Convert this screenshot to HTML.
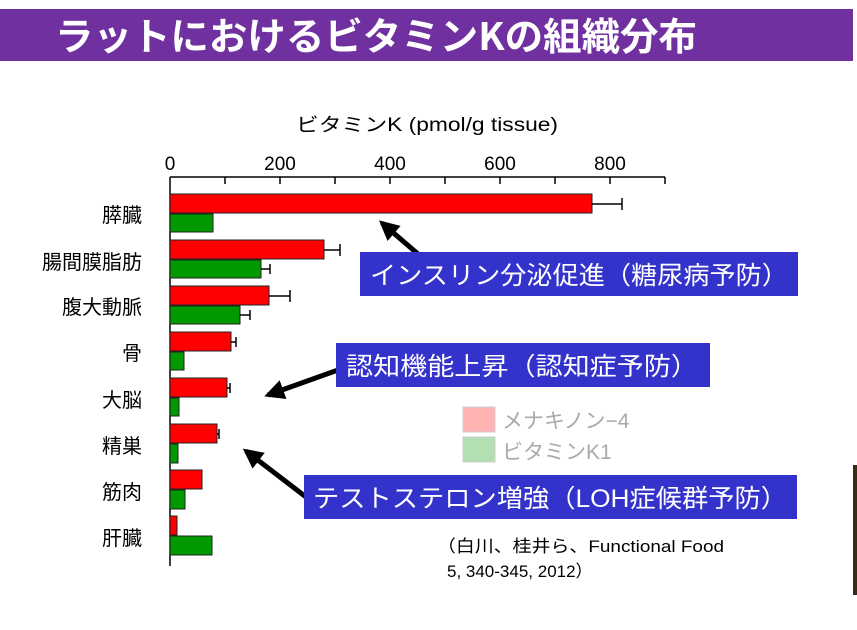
<!DOCTYPE html>
<html><head><meta charset="utf-8"><style>
html,body{margin:0;padding:0;background:#fff}
svg{display:block}
</style></head><body>
<svg width="857" height="630" xmlns="http://www.w3.org/2000/svg" font-family="'Liberation Sans','Noto Sans CJK JP',sans-serif">
<defs>
<marker id="ah" viewBox="0 0 10 10" refX="8" refY="5" markerWidth="4" markerHeight="4" orient="auto"><path d="M0,0 L10,5 L0,10 z" fill="#000"/></marker>
</defs>
<rect x="0" y="9" width="853" height="52" fill="#7030A0"/>
<text x="55" y="50" font-size="38" font-weight="bold" fill="#fff" font-family="'Noto Sans CJK JP',sans-serif" textLength="642" lengthAdjust="spacingAndGlyphs">ラットにおけるビタミンKの組織分布</text>
<text x="296" y="131" font-size="19" fill="#000" textLength="262" lengthAdjust="spacingAndGlyphs">ビタミンK (pmol/g tissue)</text>
<g font-size="19" text-anchor="middle" fill="#000">
<text x="170" y="170">0</text><text x="280" y="170">200</text><text x="390" y="170">400</text><text x="500" y="170">600</text><text x="610" y="170">800</text>
</g>
<g stroke="#000" stroke-width="1.5">
<line x1="170" y1="177" x2="665" y2="177"/>
<line x1="170" y1="177" x2="170" y2="566"/>
<line x1="225" y1="177" x2="225" y2="184"/><line x1="280" y1="177" x2="280" y2="184"/><line x1="335" y1="177" x2="335" y2="184"/><line x1="390" y1="177" x2="390" y2="184"/><line x1="445" y1="177" x2="445" y2="184"/><line x1="500" y1="177" x2="500" y2="184"/><line x1="555" y1="177" x2="555" y2="184"/><line x1="610" y1="177" x2="610" y2="184"/><line x1="665" y1="177" x2="665" y2="184"/>
</g>
<g stroke="#222" stroke-width="1">
<rect x="170" y="194" width="422" height="19" fill="#f00"/><rect x="170" y="214" width="43" height="18" fill="#090"/>
<rect x="170" y="240" width="154" height="19" fill="#f00"/><rect x="170" y="260" width="91" height="18" fill="#090"/>
<rect x="170" y="286" width="99" height="19" fill="#f00"/><rect x="170" y="306" width="70" height="18" fill="#090"/>
<rect x="170" y="332" width="61" height="19" fill="#f00"/><rect x="170" y="352" width="14" height="18" fill="#090"/>
<rect x="170" y="378" width="57" height="19" fill="#f00"/><rect x="170" y="398" width="9" height="18" fill="#090"/>
<rect x="170" y="424" width="47" height="19" fill="#f00"/><rect x="170" y="444" width="8" height="19" fill="#090"/>
<rect x="170" y="470" width="32" height="19" fill="#f00"/><rect x="170" y="490" width="15" height="19" fill="#090"/>
<rect x="170" y="516" width="7" height="19" fill="#f00"/><rect x="170" y="536" width="42" height="19" fill="#090"/>
</g>
<g stroke="#000" stroke-width="1.5">
<path d="M592,204H622M622,198V210"/>
<path d="M324,250H340M340,244V256"/><path d="M261,269H270M270,264V274"/>
<path d="M269,296H290M290,290V302"/><path d="M240,315H250M250,310V320"/>
<path d="M231,342H236M236,337V347"/>
<path d="M227,388H230M230,383V393"/>
<path d="M217,434H219M219,429V439"/>
</g>
<g font-size="20" text-anchor="end" fill="#000">
<text x="142" y="222">膵臓</text><text x="142" y="269">腸間膜脂肪</text><text x="142" y="314">腹大動脈</text><text x="142" y="360">骨</text><text x="142" y="407">大脳</text><text x="142" y="453">精巣</text><text x="142" y="499">筋肉</text><text x="142" y="545">肝臓</text>
</g>
<g stroke="#000" stroke-width="5" marker-end="url(#ah)">
<line x1="418" y1="254" x2="382" y2="223"/>
<line x1="338" y1="370" x2="268" y2="395"/>
<line x1="306" y1="497" x2="246" y2="451"/>
</g>
<rect x="360" y="252" width="438" height="44" fill="#3333CC"/>
<text x="370" y="284" font-size="25" fill="#fff" textLength="418" lengthAdjust="spacingAndGlyphs">インスリン分泌促進（糖尿病予防）</text>
<rect x="336" y="343" width="374" height="44" fill="#3333CC"/>
<text x="346" y="375" font-size="25" fill="#fff" textLength="352" lengthAdjust="spacingAndGlyphs">認知機能上昇（認知症予防）</text>
<rect x="304" y="475" width="493" height="44" fill="#3333CC"/>
<text x="313" y="507" font-size="25" fill="#fff" textLength="474" lengthAdjust="spacingAndGlyphs">テストステロン増強（LOH症候群予防）</text>
<rect x="463" y="407" width="32" height="25" fill="#ffb3b3" stroke="#ccc"/>
<rect x="463" y="437" width="32" height="25" fill="#b3e0b3" stroke="#ccc"/>
<g font-size="21" fill="#aaa"><text x="502" y="428">メナキノン−4</text><text x="502" y="459">ビタミンK1</text></g>
<g font-size="17" fill="#000"><text x="437" y="552" textLength="287" lengthAdjust="spacingAndGlyphs">（白川、桂井ら、Functional Food</text><text x="447" y="577">5, 340-345, 2012）</text></g>
<rect x="853" y="465" width="4" height="130" fill="#3a2a1a"/>
</svg>
</body></html>
